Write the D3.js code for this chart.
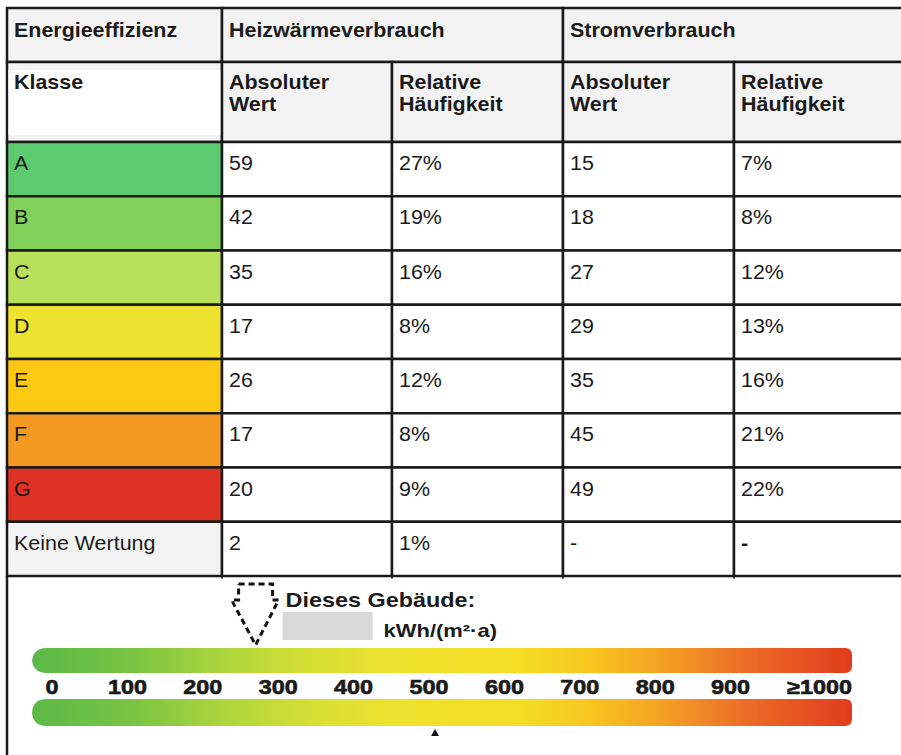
<!DOCTYPE html>
<html>
<head>
<meta charset="utf-8">
<script src="https://d3js.org/d3.v7.min.js"></script>
<style>
  html, body { margin: 0; padding: 0; background: #fff; }
  svg { display: block; font-family: Arial, "Liberation Sans", sans-serif; }
</style>
</head>
<body>
<svg id="chart" width="901" height="755"></svg>
<script>
// ---- data ----
var classes = ["A", "B", "C", "D", "E", "F", "G", "Keine Wertung"];
var classColors = ["#5ccb6f", "#80d05a", "#b8e05a", "#ece22f", "#fcc813", "#f49821", "#de3224", "#f3f3f3"];
var heizAbs = [59, 42, 35, 17, 26, 17, 20, 2];
var heizRel = [27, 19, 16, 8, 12, 8, 9, 1];
var stromAbs = [15, 18, 27, 29, 35, 45, 49, null];
var stromRel = [7, 8, 12, 13, 16, 21, 22, null];
var groupHeaders = ["Energieeffizienz", "Heizwärmeverbrauch", "Stromverbrauch"];
var subHeaders = [["Klasse"], ["Absoluter", "Wert"], ["Relative", "Häufigkeit"], ["Absoluter", "Wert"], ["Relative", "Häufigkeit"]];
var scaleTicks = [0, 100, 200, 300, 400, 500, 600, 700, 800, 900, 1000];
var buildingValue = 270;   // dashed arrow
var referenceValue = 508;  // small triangle under the scale
var buildingLabel = "Dieses Gebäude:";
var unitLabel = "kWh/(m²·a)";

// ---- layout ----
var svg = d3.select("#chart");
var colX = [7, 222, 392, 563, 734, 903];
var ink = "#1a1a1a", headBg = "#f3f3f3";
var tableTop = 8, head1 = 62, head2 = 142, tableBottom = 576;

var yRow = d3.scaleBand().domain(classes).range([head2, tableBottom]);

function label(g, x, y, str, size, bold, sx, anchor) {
  return g.append("text")
    .attr("transform", "translate(" + x + "," + y + ") scale(" + sx + ",1)")
    .attr("font-size", size)
    .attr("font-weight", bold ? "bold" : "normal")
    .attr("text-anchor", anchor || "start")
    .attr("fill", ink)
    .text(str);
}

var table = svg.append("g");
var fs = 19.5, sx = 1.1;

// header row 1
var spans = [[0, 1], [1, 3], [3, 5]];
spans.forEach(function (s, i) {
  table.append("rect").attr("x", colX[s[0]]).attr("y", tableTop)
    .attr("width", colX[s[1]] - colX[s[0]]).attr("height", head1 - tableTop)
    .attr("fill", headBg).attr("stroke", ink).attr("stroke-width", 2.5);
  label(table, colX[s[0]] + 7, tableTop + 29, groupHeaders[i], fs, true, sx);
});

// header row 2
subHeaders.forEach(function (lines, i) {
  table.append("rect").attr("x", colX[i]).attr("y", head1)
    .attr("width", colX[i + 1] - colX[i]).attr("height", head2 - head1)
    .attr("fill", headBg).attr("stroke", ink).attr("stroke-width", 2.5);
  if (i === 0) {
    table.append("rect").attr("x", colX[0] + 1.5).attr("y", head1 + 8)
      .attr("width", colX[1] - colX[0] - 3).attr("height", head2 - head1 - 15)
      .attr("fill", "#fff");
  }
  lines.forEach(function (t, j) {
    label(table, colX[i] + 7, head1 + 27 + j * 22, t, fs, true, sx);
  });
});

// body rows
var cells = [];
classes.forEach(function (c, r) {
  var vals = [c,
    heizAbs[r] == null ? "-" : String(heizAbs[r]),
    heizRel[r] == null ? "-" : heizRel[r] + "%",
    stromAbs[r] == null ? "-" : String(stromAbs[r]),
    stromRel[r] == null ? "-" : stromRel[r] + "%"];
  vals.forEach(function (v, k) {
    cells.push({ row: c, col: k, text: v, fill: k === 0 ? classColors[r] : "#fff" });
  });
});

table.selectAll("rect.cell").data(cells).join("rect")
  .attr("class", "cell")
  .attr("x", function (d) { return colX[d.col]; })
  .attr("y", function (d) { return yRow(d.row); })
  .attr("width", function (d) { return colX[d.col + 1] - colX[d.col]; })
  .attr("height", yRow.bandwidth())
  .attr("fill", function (d) { return d.fill; })
  .attr("stroke", ink).attr("stroke-width", 2.5);

cells.forEach(function (d) {
  label(table, colX[d.col] + 7, yRow(d.row) + 28, d.text, fs, d.text === "-" && d.col === 4, sx);
});

// left border of the lower panel and small column stubs
table.append("line").attr("x1", colX[0]).attr("x2", colX[0])
  .attr("y1", tableBottom).attr("y2", 755).attr("stroke", ink).attr("stroke-width", 2.5);
colX.slice(1, 5).forEach(function (x) {
  table.append("line").attr("x1", x).attr("x2", x)
    .attr("y1", tableBottom).attr("y2", tableBottom + 3).attr("stroke", ink).attr("stroke-width", 1.2);
});

// ---- energy scale ----
var xs = d3.scaleLinear().domain([0, 1000]).range([52, 806]);
var barL = 32, barR = 852;

var defs = svg.append("defs");
var grad = defs.append("linearGradient").attr("id", "energy")
  .attr("gradientUnits", "userSpaceOnUse")
  .attr("x1", barL).attr("x2", barR).attr("y1", 0).attr("y2", 0);
[[0, "#5cb947"], [0.12, "#78c443"], [0.24, "#b0d63c"], [0.34, "#d6df34"], [0.44, "#ede22e"],
 [0.6, "#f4dc24"], [0.68, "#f7c61f"], [0.77, "#f4a024"], [0.87, "#ec6c26"], [1, "#e13c1e"]]
  .forEach(function (s) {
    grad.append("stop").attr("offset", s[0]).attr("stop-color", s[1]);
  });
defs.append("filter").attr("id", "soft")
  .append("feGaussianBlur").attr("stdDeviation", 0.7);

function bar(x0, x1, y0, y1, rl, rr) {
  var p = d3.path();
  p.moveTo(x0 + rl, y0);
  p.lineTo(x1 - rr, y0);
  p.quadraticCurveTo(x1, y0, x1, y0 + rr);
  p.lineTo(x1, y1 - rr);
  p.quadraticCurveTo(x1, y1, x1 - rr, y1);
  p.lineTo(x0 + rl, y1);
  p.quadraticCurveTo(x0, y1, x0, y1 - rl);
  p.lineTo(x0, y0 + rl);
  p.quadraticCurveTo(x0, y0, x0 + rl, y0);
  p.closePath();
  return p.toString();
}

var scaleG = svg.append("g");
scaleG.append("path").attr("d", bar(barL, barR, 648, 673, 15, 7))
  .attr("fill", "url(#energy)").attr("filter", "url(#soft)");
scaleG.append("path").attr("d", bar(barL, barR, 699, 726, 15, 7))
  .attr("fill", "url(#energy)").attr("filter", "url(#soft)");

scaleG.selectAll("text.tick").data(scaleTicks).join("text")
  .attr("class", "tick")
  .attr("transform", function (d) {
    var x = d === 1000 ? barR : xs(d);
    return "translate(" + x + ",693.5) scale(1.2,1)";
  })
  .attr("text-anchor", function (d) { return d === 1000 ? "end" : "middle"; })
  .attr("font-size", 19.5).attr("font-weight", "bold")
  .attr("fill", "#1a1a1a").attr("stroke", "#1a1a1a").attr("stroke-width", 0.6)
  .text(function (d) { return d === 1000 ? "≥1000" : d; });

// dashed arrow marking this building
var ax = xs(buildingValue);
var arrow = d3.line()([[ax - 17, 584], [ax + 17, 584], [ax + 17, 600], [ax + 23, 600],
  [ax, 645], [ax - 24, 600], [ax - 17, 600], [ax - 17, 584]]);
scaleG.append("path").attr("d", arrow).attr("fill", "none")
  .attr("stroke", "#111").attr("stroke-width", 3).attr("stroke-dasharray", "6,4");

label(scaleG, ax + 30, 607, buildingLabel, 19.5, true, 1.2);
scaleG.append("rect").attr("x", ax + 27).attr("y", 612).attr("width", 90).attr("height", 28)
  .attr("fill", "#d9d9d9");
label(scaleG, ax + 128, 637, unitLabel, 18, true, 1.22);

// small reference triangle
var tx = xs(referenceValue);
scaleG.append("path").attr("d", d3.line()([[tx - 4, 736], [tx + 4, 736], [tx, 729]]))
  .attr("fill", "#111");
</script>
</body>
</html>
